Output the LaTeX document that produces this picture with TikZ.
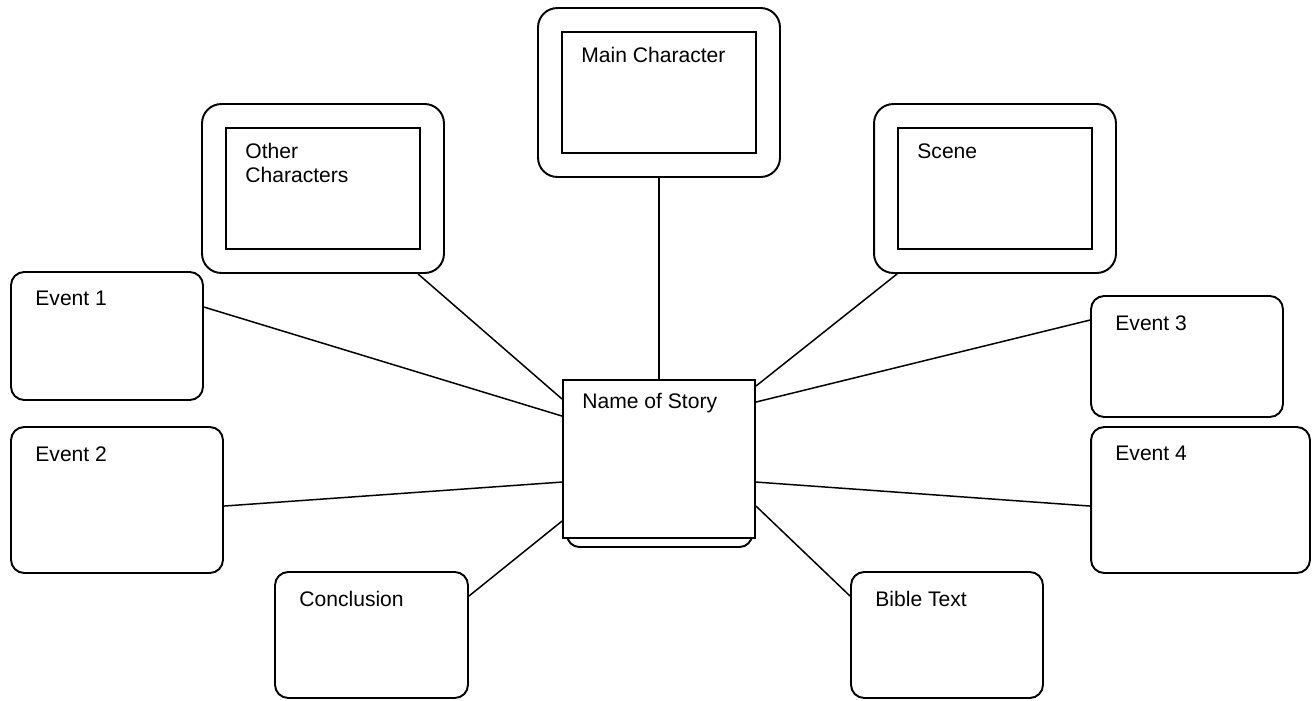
\documentclass[tikz,border=0pt]{standalone}
\usepackage{fontspec}
\setmainfont{Liberation Sans}
\usetikzlibrary{positioning, calc}
\tikzset{
  card/.style={
    draw,
    rectangle,
    rounded corners=7.5pt,
    line width=1.1pt,
    fill=white
  },
  frame/.style={
    draw,
    rectangle,
    rounded corners=11pt,
    line width=1.1pt,
    minimum width=4.84cm,
    minimum height=3.38cm
  },
  pane/.style={
    draw,
    rectangle,
    line width=1.1pt,
    minimum width=3.88cm,
    minimum height=2.42cm
  },
  tag/.style={
    anchor=north west,
    inner sep=0pt,
    align=left,
    xshift=0.5cm,
    yshift=-0.4cm
  },
  intag/.style={
    anchor=north west,
    inner sep=0pt,
    align=left,
    xshift=0.4cm,
    yshift=-0.32cm
  },
  link/.style={
    line width=0.85pt
  }
}

\begin{document}
\begin{tikzpicture}[x=0.02cm, y=-0.02cm, font=\fontsize{12}{13.8}\selectfont]
    \useasboundingbox (0,0) rectangle (1312,700);

    % top frames
    \node[frame] (mainout) at (659,92.5) {};
    \node[pane, label={[intag]north west:Main Character}] (mainin) at (659,92.5) {};
    \node[frame] (otherout) at (323,188.5) {};
    \node[pane, label={[intag]north west:Other\\Characters}] (otherin) at (323,188.5) {};
    \node[frame] (sceneout) at (995,188.5) {};
    \node[pane, label={[intag]north west:Scene}] (scenein) at (995,188.5) {};

    % centre
    \node[card, rounded corners=7pt, minimum width=3.7cm, minimum height=3.14cm] (back) at (659.5,468.5) {};
    \node[card, rounded corners=0pt, minimum width=3.84cm, minimum height=3.16cm,
          label={[intag, yshift=0.04cm]north west:Name of Story}] (story) at (659,459) {};

    % side cards
    \node[card, minimum width=3.84cm, minimum height=2.56cm, label={[tag]north west:Event 1}] (ev1) at (107,336) {};
    \node[card, minimum width=4.24cm, minimum height=2.92cm, label={[tag]north west:Event 2}] (ev2) at (117,500) {};
    \node[card, minimum width=3.86cm, minimum height=2.52cm, label={[tag]north west:Conclusion}] (concl) at (371.5,635) {};
    \node[card, minimum width=3.84cm, minimum height=2.52cm, label={[tag]north west:Bible Text}] (bible) at (947,635) {};
    \node[card, minimum width=3.84cm, minimum height=2.42cm, label={[tag]north west:Event 3}] (ev3) at (1187,356.5) {};
    \node[card, minimum width=4.38cm, minimum height=2.92cm, label={[tag]north west:Event 4}] (ev4) at (1200.5,500) {};

    \draw[link] (mainout.south) -- (story.north);
    \draw[link] ($(otherout.south west)+(217,0)$) -- ($(story.north west)+(0,20)$);
    \draw[link] ($(sceneout.south west)+(24,0)$) -- ($(story.north east)+(0,7)$);
    \draw[link] ($(ev1.north east)+(0,36)$) -- ($(story.north west)+(0,37)$);
    \draw[link] ($(ev2.north east)+(0,80)$) -- ($(story.north west)+(0,103)$);
    \draw[link] ($(concl.north east)+(0,25)$) -- ($(story.north west)+(0,142)$);
    \draw[link] ($(ev3.north west)+(0,25)$) -- ($(story.north east)+(0,23)$);
    \draw[link] ($(ev4.north west)+(0,80)$) -- ($(story.north east)+(0,103)$);
    \draw[link] ($(bible.north west)+(0,25)$) -- ($(story.north east)+(0,127)$);
\end{tikzpicture}
\end{document}
